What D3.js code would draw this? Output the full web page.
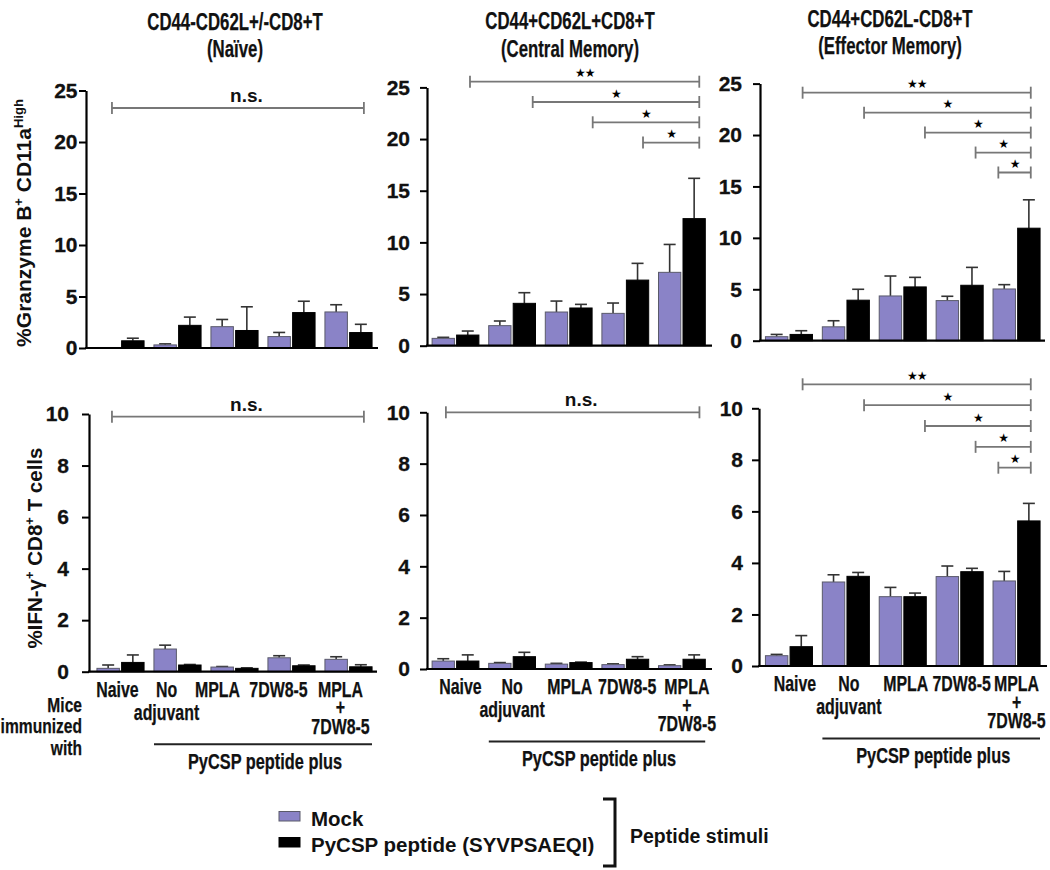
<!DOCTYPE html>
<html><head><meta charset="utf-8">
<script src="https://cdn.jsdelivr.net/npm/d3@7"></script>
<style>body{margin:0;background:#fff}</style>
</head><body>
<svg id="c" width="1050" height="870"></svg>
<script>
// ---------------- DATA ----------------
const groups = ["Naive", "No adjuvant", "MPLA", "7DW8-5", "MPLA + 7DW8-5"];
const groupLabelLines = [["Naive"], ["No", "adjuvant"], ["MPLA"], ["7DW8-5"], ["MPLA", "+", "7DW8-5"]];
const series = ["Mock", "PyCSP peptide (SYVPSAEQI)"];
const gzbTicks = [0, 5, 10, 15, 20, 25];
const ifnTicks = [0, 2, 4, 6, 8, 10];
const panelTitles = [["CD44-CD62L+/-CD8+T", "(Naïve)"], ["CD44+CD62L+CD8+T", "(Central Memory)"], ["CD44+CD62L-CD8+T", "(Effector Memory)"]];

// %Granzyme B+ CD11a High
const gzbNaiveMock = [0.05, 0.3, 2.07, 1.11, 3.5];
const gzbNaiveMockSE = [0, 0.1, 0.7, 0.4, 0.7];
const gzbNaivePep = [0.7, 2.2, 1.7, 3.44, 1.5];
const gzbNaivePepSE = [0.25, 0.8, 2.3, 1.1, 0.8];

const gzbCMMock = [0.71, 1.94, 3.26, 3.13, 7.1];
const gzbCMMockSE = [0.1, 0.45, 1.06, 1.0, 2.7];
const gzbCMPep = [1.03, 4.1, 3.65, 6.35, 12.3];
const gzbCMPepSE = [0.39, 1.03, 0.35, 1.62, 3.9];

const gzbEMMock = [0.39, 1.35, 4.35, 3.9, 5.03];
const gzbEMMockSE = [0.22, 0.59, 1.94, 0.42, 0.42];
const gzbEMPep = [0.61, 3.94, 5.23, 5.39, 10.94];
const gzbEMPepSE = [0.36, 1.06, 0.93, 1.74, 2.76];

// %IFN-gamma+ CD8+ T cells
const ifnNaiveMock = [0.13, 0.88, 0.18, 0.54, 0.48];
const ifnNaiveMockSE = [0.13, 0.15, 0.02, 0.08, 0.1];
const ifnNaivePep = [0.36, 0.26, 0.13, 0.23, 0.19];
const ifnNaivePepSE = [0.29, 0.02, 0.02, 0.03, 0.08];

const ifnCMMock = [0.31, 0.22, 0.19, 0.17, 0.13];
const ifnCMMockSE = [0.09, 0.03, 0.03, 0.03, 0.03];
const ifnCMPep = [0.31, 0.48, 0.25, 0.38, 0.38];
const ifnCMPepSE = [0.24, 0.17, 0.02, 0.1, 0.17];

const ifnEMMock = [0.4, 3.26, 2.69, 3.47, 3.3];
const ifnEMMockSE = [0.05, 0.28, 0.36, 0.41, 0.37];
const ifnEMPep = [0.75, 3.48, 2.69, 3.66, 5.63];
const ifnEMPepSE = [0.43, 0.15, 0.14, 0.13, 0.68];

// significance comparisons (positions in group units, 0 = first group centre), listed top to bottom
const sigNaive = [{from: -0.15, to: 4.27, label: "n.s.", at: 2.21}];
const sigCMgzb = [{from: 0.256, to: 4.307, label: "**"}, {from: 1.364, to: 4.307, label: "*"}, {from: 2.424, to: 4.307, label: "*"}, {from: 3.313, to: 4.307, label: "*"}];
const sigCMifn = [{from: -0.17, to: 4.31, label: "n.s.", at: 2.22}];
const sigEM = [{from: 0.24, to: 4.25, label: "**"}, {from: 1.32, to: 4.25, label: "*"}, {from: 2.39, to: 4.25, label: "*"}, {from: 3.28, to: 4.25, label: "*"}, {from: 3.68, to: 4.25, label: "*"}];

// ---------------- LAYOUT ----------------
const svg = d3.select("#c");
svg.append("rect").attr("width", 1050).attr("height", 870).attr("fill", "#fff");
const MOCK = "#8a83c7", PEP = "#000";
const FONT = "'Liberation Sans', Arial, sans-serif";

// condensed bold text: Liberation Sans Bold squeezed horizontally
function condText(parent, x, y, str, size, factor, anchor) {
  const t = parent.append("text").attr("x", 0).attr("y", y)
    .attr("font-family", FONT).attr("font-weight", "bold").attr("font-size", size)
    .attr("fill", "#111").attr("stroke", "#111").attr("stroke-width", 0.25).text(str);
  const w = t.node().getComputedTextLength();
  const nw = w * factor;
  let x0 = x;
  if (anchor === "middle") x0 = x - nw / 2;
  else if (anchor === "end") x0 = x - nw;
  t.attr("x", x0).attr("textLength", nw).attr("lengthAdjust", "spacingAndGlyphs");
  return t;
}

const panels = [
  {mock: gzbNaiveMock, mockSE: gzbNaiveMockSE, pep: gzbNaivePep, pepSE: gzbNaivePepSE, ticks: gzbTicks, sig: sigNaive,
   L: {axisX: 86, y0: 348, yTop: 90.5, xEnd: 378, band: [92, 377], sigY: 108, sigStep: 20, tickPad: 1.5}},
  {mock: gzbCMMock, mockSE: gzbCMMockSE, pep: gzbCMPep, pepSE: gzbCMPepSE, ticks: gzbTicks, sig: sigCMgzb,
   L: {axisX: 427, y0: 345.7, yTop: 87.4, xEnd: 712, band: [427.2, 710.2], sigY: 81.7, sigStep: 20.3, tickPad: 10}},
  {mock: gzbEMMock, mockSE: gzbEMMockSE, pep: gzbEMPep, pepSE: gzbEMPepSE, ticks: gzbTicks, sig: sigEM,
   L: {axisX: 760, y0: 340.7, yTop: 83.6, xEnd: 1045, band: [760.5, 1045], sigY: 92.7, sigStep: 19.95, tickPad: 11}},
  {mock: ifnNaiveMock, mockSE: ifnNaiveMockSE, pep: ifnNaivePep, pepSE: ifnNaivePepSE, ticks: ifnTicks, sig: sigNaive, labels: true, shift: [-3, -11, -17, -13, -8],
   L: {axisX: 89, y0: 671.7, yTop: 414, xEnd: 377, band: [92, 377], sigY: 416.7, sigStep: 20, tickPad: 13}},
  {mock: ifnCMMock, mockSE: ifnCMMockSE, pep: ifnCMPep, pepSE: ifnCMPepSE, ticks: ifnTicks, sig: sigCMifn, labels: true, shift: [5, 0, 1, 2, 5],
   L: {axisX: 427, y0: 669, yTop: 412.3, xEnd: 712, band: [427.2, 710.2], sigY: 412.3, sigStep: 20, tickPad: 10}},
  {mock: ifnEMMock, mockSE: ifnEMMockSE, pep: ifnEMPep, pepSE: ifnEMPepSE, ticks: ifnTicks, sig: sigEM, labels: true, shift: [6, 3, 3, 2, 0],
   L: {axisX: 759, y0: 666, yTop: 408.3, xEnd: 1047, band: [760.5, 1045], sigY: 384.3, sigStep: 20.85, tickPad: 9}}
];

function drawPanel(p) {
  const L = p.L;
  const g = svg.append("g");
  const y = d3.scaleLinear().domain([0, d3.max(p.ticks)]).range([L.y0, L.yTop]);
  const x0 = d3.scaleBand().domain(groups).range(L.band).padding(0);
  const x1 = d3.scaleBand().domain(series).range([0, x0.bandwidth()]).paddingInner(0.09).paddingOuter(0.2);
  const c0 = x0(groups[0]) + x0.bandwidth() / 2;
  const xPos = d3.scaleLinear().domain([0, 1]).range([c0, c0 + x0.step()]);

  const rows = groups.map((gn, i) => ({g: gn, vals: [
    {s: series[0], v: p.mock[i], e: p.mockSE[i]},
    {s: series[1], v: p.pep[i], e: p.pepSE[i]}]}));

  const grp = g.selectAll("g.grp").data(rows).join("g").attr("transform", d => `translate(${x0(d.g)},0)`);
  // error bars (upper only)
  const eb = grp.selectAll("g.eb").data(d => d.vals.filter(v => v.e > 0)).join("g");
  eb.append("line").attr("x1", d => x1(d.s) + x1.bandwidth() / 2).attr("x2", d => x1(d.s) + x1.bandwidth() / 2)
    .attr("y1", d => y(d.v)).attr("y2", d => y(d.v + d.e)).attr("stroke", "#333").attr("stroke-width", 1.6);
  eb.append("line").attr("x1", d => x1(d.s) + x1.bandwidth() / 2 - 6).attr("x2", d => x1(d.s) + x1.bandwidth() / 2 + 6)
    .attr("y1", d => y(d.v + d.e)).attr("y2", d => y(d.v + d.e)).attr("stroke", "#333").attr("stroke-width", 1.6);
  // bars
  grp.selectAll("rect").data(d => d.vals).join("rect")
    .attr("x", d => x1(d.s)).attr("width", x1.bandwidth())
    .attr("y", d => y(d.v)).attr("height", d => y(0) - y(d.v))
    .attr("fill", d => d.s === series[0] ? MOCK : PEP)
    .attr("stroke", d => d.s === series[0] ? "#5a5a6a" : "#000").attr("stroke-width", 1);

  // y axis
  const ax = g.append("g").attr("transform", `translate(${L.axisX},0)`)
    .call(d3.axisLeft(y).tickValues(p.ticks).tickSize(7).tickPadding(L.tickPad).tickSizeOuter(0));
  ax.select(".domain").attr("stroke", "#000").attr("stroke-width", 2.2);
  ax.selectAll(".tick line").attr("stroke", "#000").attr("stroke-width", 2);
  ax.selectAll(".tick text").attr("font-family", FONT).attr("font-weight", "bold").attr("font-size", 21)
    .attr("fill", "#111").attr("stroke", "#111").attr("stroke-width", 0.3);
  // x axis line
  g.append("line").attr("x1", L.axisX - 1).attr("x2", L.xEnd).attr("y1", L.y0).attr("y2", L.y0)
    .attr("stroke", "#000").attr("stroke-width", 2.2);

  // significance bars
  const sg = g.selectAll("g.sig").data(p.sig).join("g");
  sg.each(function(d, i) {
    const s = d3.select(this);
    const yy = L.sigY + i * L.sigStep;
    const xa = xPos(d.from), xb = xPos(d.to);
    s.append("line").attr("x1", xa).attr("x2", xb).attr("y1", yy).attr("y2", yy).attr("stroke", "#777").attr("stroke-width", 1.8);
    [xa, xb].forEach(xx => s.append("line").attr("x1", xx).attr("x2", xx).attr("y1", yy - 6).attr("y2", yy + 6).attr("stroke", "#777").attr("stroke-width", 1.8));
    if (d.label === "n.s.") {
      s.append("text").attr("x", xPos(d.at)).attr("y", yy - 6).attr("text-anchor", "middle")
        .attr("font-family", FONT).attr("font-weight", "bold").attr("font-size", 19).attr("fill", "#111").text(d.label);
    } else {
      s.append("text").attr("x", (xa + xb) / 2).attr("y", yy - 8.5).attr("text-anchor", "middle").attr("dominant-baseline", "central")
        .attr("font-family", "'DejaVu Sans', sans-serif").attr("font-size", 12).attr("letter-spacing", -1).attr("fill", "#000")
        .text(d.label.replace(/\*/g, "★"));
    }
  });

  // x tick labels
  if (p.labels) {
    groups.forEach((gn, i) => {
      const lines = groupLabelLines[i];
      const cx = x0(gn) + x0.bandwidth() / 2 + p.shift[i];
      const gap = lines.length === 3 ? 18.5 : 23.3;
      lines.forEach((ln, k) => condText(g, cx, L.y0 + 25 + k * gap, ln, 21.5, 0.74, "middle"));
    });
    const xs = x0(groups[1]) + 5, xe = x0(groups[4]) + x0.bandwidth() - 5;
    g.append("line").attr("x1", xs).attr("x2", xe).attr("y1", L.y0 + 72.5).attr("y2", L.y0 + 72.5).attr("stroke", "#222").attr("stroke-width", 2);
    condText(g, (xs + xe) / 2 + 2, L.y0 + 97, "PyCSP peptide plus", 21.5, 0.76, "middle");
  }
}
panels.forEach(drawPanel);

// titles
const titleX = [235, 570, 890];
const titleY = [[30, 57], [29, 57], [27, 54]];
panelTitles.forEach((t, i) => {
  t.forEach((ln, k) => condText(svg, titleX[i], titleY[i][k], ln, 23, 0.73, "middle"));
});

// y axis titles
const yt1 = svg.append("text").attr("transform", "translate(31,223) rotate(-90)").attr("text-anchor", "middle")
  .attr("font-family", FONT).attr("font-weight", "bold").attr("font-size", 21).attr("fill", "#111");
yt1.append("tspan").text("%Granzyme B");
yt1.append("tspan").attr("font-size", 13).attr("dy", -8).text("+");
yt1.append("tspan").attr("dy", 8).text(" CD11a");
yt1.append("tspan").attr("font-size", 13).attr("dy", -8).text("High");

const yt2 = svg.append("text").attr("transform", "translate(42,548) rotate(-90)").attr("text-anchor", "middle")
  .attr("font-family", FONT).attr("font-weight", "bold").attr("font-size", 20.5).attr("fill", "#111");
yt2.append("tspan").text("%IFN-γ");
yt2.append("tspan").attr("font-size", 13).attr("dy", -8).text("+");
yt2.append("tspan").attr("dy", 8).text(" CD8");
yt2.append("tspan").attr("font-size", 13).attr("dy", -8).text("+");
yt2.append("tspan").attr("dy", 8).text(" T cells");

// "Mice immunized with"
["Mice", "immunized", "with"].forEach((ln, k) => condText(svg, 82, 711.7 + k * 21.7, ln, 20.5, 0.76, "end"));

// legend
const lg = svg.append("g");
const legY = [811.5, 837.5];
series.forEach((s, i) => {
  lg.append("rect").attr("x", 279).attr("y", legY[i]).attr("width", 21).attr("height", 9.5)
    .attr("fill", i === 0 ? MOCK : PEP).attr("stroke", i === 0 ? "#5a5a6a" : "#000").attr("stroke-width", 1);
  lg.append("text").attr("x", 311).attr("y", legY[i] + 14.5).attr("font-family", FONT).attr("font-weight", "bold")
    .attr("font-size", 20.5).attr("fill", "#111").text(s);
});
lg.append("path").attr("d", "M603,799 H615 V866 H603").attr("fill", "none").attr("stroke", "#111").attr("stroke-width", 3);
lg.append("text").attr("x", 630).attr("y", 843).attr("font-family", FONT).attr("font-weight", "bold")
  .attr("font-size", 19.5).attr("fill", "#111").text("Peptide stimuli");
</script>
</body></html>
